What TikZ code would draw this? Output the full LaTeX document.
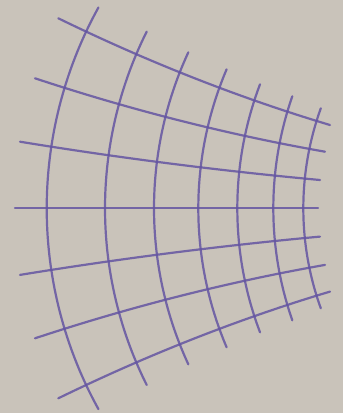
\documentclass[tikz,border=0pt]{standalone}
\usetikzlibrary{calc}
\definecolor{bg}{HTML}{C9C3BA}
\definecolor{grid}{HTML}{6455A2}
\tikzset{gridline/.style={draw=grid, line width=2.2pt, line cap=round, opacity=0.85}}
\newcommand{\quadpath}[3]{($(#1)$) .. controls ($(#1)!2/3!(#2)$) and ($(#3)!2/3!(#2)$) .. ($(#3)$)}
\newcommand{\gridarc}[3]{%
  \pgfmathsetmacro{\myR}{((#2)/(2*(#3)))*(#2)+(#3)/2}%
  \pgfmathsetmacro{\myA}{asin((#2)/\myR)}%
  \pgfmathsetmacro{\myC}{#1+\myR}%
  \draw[gridline] plot[domain=-\myA:\myA, samples=40, smooth] ({\myC-\myR*cos(\x)}, {208.3+\myR*sin(\x)});}
\begin{document}
\begin{tikzpicture}[x=1pt,y=-1pt]
\fill[bg] (0,0) rectangle (343,413);
\useasboundingbox (0,0) rectangle (343,413);
% radial lines
\draw[gridline] \quadpath{58.3,18.3}{193.8,84.3}{330,125};
\draw[gridline] \quadpath{35,78.3}{180,126.2}{325,151.7};
\draw[gridline] \quadpath{20,141.7}{170,166.2}{320,180};
\draw[gridline] (15,208.3) -- (318,208.3);
\draw[gridline] \quadpath{20,274.9}{170,250.4}{320,236.6};
\draw[gridline] \quadpath{35,338.3}{180,290.4}{325,264.9};
\draw[gridline] \quadpath{58.3,398.3}{193.8,332.3}{330,291.6};
% arcs
\gridarc{46.7}{200.8}{51.7}
\gridarc{105}{176.7}{41.7}
\gridarc{154}{156}{34.3}
\gridarc{198.3}{139}{28.3}
\gridarc{237.3}{124}{22.7}
\gridarc{273.3}{112}{19}
\gridarc{303.3}{100}{17.5}
\end{tikzpicture}
\end{document}
